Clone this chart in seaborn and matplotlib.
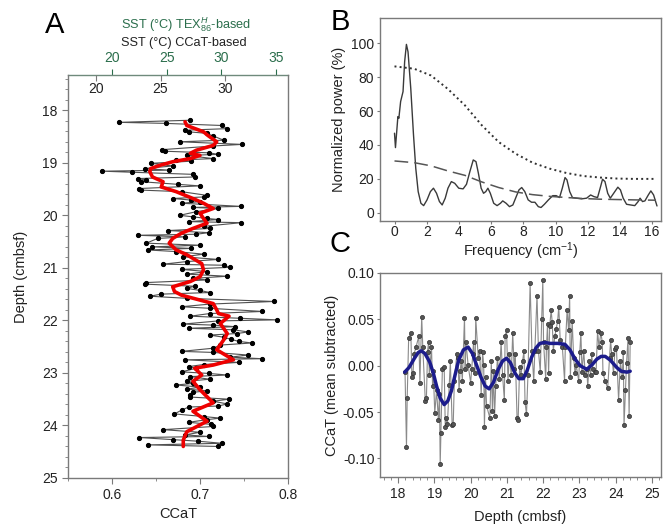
import numpy as np
import pandas as pd
import matplotlib
matplotlib.use('Agg')
import matplotlib.pyplot as plt
import seaborn as sns
from matplotlib.ticker import MultipleLocator, FormatStrFormatter

sns.set_style('ticks')
plt.rcParams['font.family'] = ['Liberation Sans', 'DejaVu Sans']
plt.rcParams['mathtext.fontset'] = 'custom'
plt.rcParams['mathtext.rm'] = 'Liberation Sans'
plt.rcParams['mathtext.it'] = 'Liberation Sans:italic'

# ---------------- data: panel A (CCaT vs depth) ----------------
depth = [18.19, 18.23, 18.25, 18.29, 18.35, 18.38, 18.41, 18.44, 18.49, 18.57,
         18.60, 18.65, 18.68, 18.75, 18.78, 18.81, 18.84, 18.86, 18.92, 18.95,
         18.97, 19.01, 19.06, 19.11, 19.14, 19.16, 19.18, 19.22, 19.27, 19.30,
         19.33, 19.36, 19.41, 19.44, 19.49, 19.52, 19.55, 19.62, 19.65, 19.68,
         19.71, 19.74, 19.77, 19.83, 19.85, 19.87, 19.93, 20.00, 20.03, 20.06,
         20.08, 20.12, 20.14, 20.21, 20.25, 20.29, 20.33, 20.36, 20.38, 20.41,
         20.44, 20.53, 20.57, 20.60, 20.63, 20.66, 20.69, 20.74, 20.79, 20.84,
         20.88, 20.93, 20.95, 20.99, 21.03, 21.07, 21.12, 21.16, 21.20, 21.23,
         21.28, 21.31, 21.35, 21.39, 21.43, 21.47, 21.50, 21.54, 21.58, 21.64,
         21.69, 21.74, 21.77, 21.83, 21.87, 21.92, 21.96, 21.99, 22.01, 22.07,
         22.09, 22.12, 22.15, 22.18, 22.22, 22.25, 22.28, 22.32, 22.36, 22.40,
         22.43, 22.47, 22.53, 22.59, 22.61, 22.66, 22.70, 22.73, 22.75, 22.80,
         22.84, 22.88, 22.91, 22.98, 23.01, 23.04, 23.07, 23.12, 23.16, 23.20,
         23.23, 23.27, 23.31, 23.34, 23.37, 23.42, 23.46, 23.50, 23.54, 23.59,
         23.63, 23.65, 23.71, 23.78, 23.83, 23.86, 23.89, 23.94, 23.98, 24.02,
         24.08, 24.13, 24.18, 24.21, 24.23, 24.27, 24.30, 24.34, 24.37, 24.40]
ccat = [0.689, 0.608, 0.661, 0.725, 0.731, 0.683, 0.687, 0.708, 0.715, 0.727,
        0.677, 0.748, 0.715, 0.657, 0.660, 0.710, 0.721, 0.685, 0.715, 0.673,
        0.690, 0.644, 0.669, 0.637, 0.665, 0.589, 0.623, 0.692, 0.694, 0.629,
        0.639, 0.633, 0.675, 0.700, 0.631, 0.633, 0.679, 0.708, 0.704, 0.669,
        0.690, 0.700, 0.679, 0.747, 0.692, 0.721, 0.696, 0.677, 0.692, 0.708,
        0.721, 0.687, 0.747, 0.704, 0.711, 0.664, 0.710, 0.696, 0.629, 0.683,
        0.652, 0.639, 0.700, 0.646, 0.690, 0.641, 0.673, 0.704, 0.681, 0.721,
        0.685, 0.658, 0.727, 0.734, 0.679, 0.708, 0.685, 0.731, 0.692, 0.708,
        0.639, 0.637, 0.694, 0.685, 0.700, 0.711, 0.656, 0.643, 0.685, 0.784,
        0.711, 0.679, 0.711, 0.771, 0.711, 0.689, 0.746, 0.788, 0.721, 0.681,
        0.715, 0.740, 0.687, 0.738, 0.755, 0.742, 0.711, 0.727, 0.735, 0.744,
        0.759, 0.723, 0.715, 0.679, 0.715, 0.755, 0.734, 0.771, 0.683, 0.744,
        0.704, 0.687, 0.696, 0.679, 0.710, 0.731, 0.689, 0.711, 0.685, 0.692,
        0.673, 0.700, 0.685, 0.708, 0.692, 0.689, 0.689, 0.733, 0.715, 0.731,
        0.721, 0.687, 0.679, 0.671, 0.704, 0.723, 0.708, 0.687, 0.713, 0.715,
        0.658, 0.700, 0.683, 0.710, 0.631, 0.669, 0.698, 0.725, 0.641, 0.721]

smooth_depth = [18.22, 18.29, 18.41, 18.48, 18.60, 18.67, 18.76, 18.82, 18.86, 18.92,
                18.98, 19.05, 19.11, 19.17, 19.27, 19.36, 19.46, 19.55, 19.68, 19.77,
                19.87, 19.96, 20.06, 20.15, 20.25, 20.34, 20.44, 20.53, 20.66, 20.75,
                20.84, 20.92, 21.04, 21.17, 21.26, 21.36, 21.45, 21.52, 21.68, 21.80,
                21.87, 21.92, 22.06, 22.25, 22.37, 22.56, 22.75, 22.85, 22.91, 23.04,
                23.16, 23.32, 23.57, 23.73, 23.92, 24.12, 24.28, 24.40]
smooth_ccat = [0.683, 0.685, 0.704, 0.709, 0.719, 0.715, 0.696, 0.689, 0.700, 0.689,
               0.669, 0.654, 0.644, 0.643, 0.646, 0.658, 0.656, 0.673, 0.692, 0.704,
               0.715, 0.700, 0.704, 0.708, 0.692, 0.679, 0.669, 0.665, 0.673, 0.685,
               0.694, 0.702, 0.704, 0.700, 0.689, 0.669, 0.671, 0.679, 0.715, 0.719,
               0.721, 0.733, 0.723, 0.731, 0.727, 0.719, 0.738, 0.715, 0.694, 0.702,
               0.692, 0.700, 0.715, 0.692, 0.708, 0.685, 0.681, 0.681]

# ---------------- data: panel B (spectrum) ----------------
spec_freq = [0.00, 0.06, 0.17, 0.21, 0.27, 0.38, 0.53, 0.63, 0.74, 0.84, 1.01, 1.18,
             1.32, 1.47, 1.64, 1.81, 2.02, 2.23, 2.42, 2.61, 2.79, 2.96, 3.15, 3.32,
             3.53, 3.74, 3.99, 4.26, 4.47, 4.68, 4.89, 5.06, 5.21, 5.38, 5.53, 5.67,
             5.80, 5.95, 6.16, 6.37, 6.58, 6.72, 6.93, 7.14, 7.35, 7.52, 7.73, 7.90,
             8.09, 8.30, 8.51, 8.72, 8.93, 9.10, 9.31, 9.56, 9.83, 10.04, 10.25, 10.42,
             10.59, 10.71, 10.88, 11.05, 11.30, 11.62, 11.93, 12.18, 12.39, 12.61,
             12.77, 12.92, 13.07, 13.24, 13.40, 13.61, 13.87, 14.03, 14.20, 14.41,
             14.66, 14.92, 15.13, 15.25, 15.40, 15.55, 15.76, 15.92, 16.09, 16.30]
spec_power = [46.9, 38.4, 51.8, 56.7, 55.7, 65.6, 71.5, 89.2, 99.4, 95.0, 73.4, 45.9,
              26.2, 12.4, 5.5, 4.1, 7.5, 12.4, 14.4, 11.4, 6.5, 4.5, 8.5, 14.4,
              18.3, 17.3, 14.4, 14.0, 16.7, 24.2, 31.1, 30.1, 23.2, 14.4, 11.4, 12.4,
              14.4, 11.4, 5.5, 4.1, 5.5, 6.9, 5.5, 3.5, 4.5, 8.5, 13.4, 14.8,
              12.4, 7.5, 6.1, 6.1, 3.5, 3.0, 4.9, 7.5, 10.0, 10.0, 8.9, 14.4,
              20.7, 19.3, 12.4, 8.9, 8.5, 8.1, 8.5, 10.4, 9.4, 8.9,
              14.4, 19.7, 18.3, 11.4, 8.5, 11.4, 15.0, 13.4, 8.5, 4.9,
              4.5, 4.1, 6.5, 8.5, 6.5, 6.9, 10.4, 12.8, 10.4, 3.9]
conf_freq = [0.00, 1.22, 2.27, 3.32, 4.37, 5.42, 6.47, 7.52, 8.57, 9.62, 10.67,
             11.72, 12.77, 13.82, 14.87, 16.24]
conf99 = [86.4, 85.0, 81.0, 73.0, 63.4, 51.6, 41.7, 34.8, 29.5, 26.0, 23.4,
          21.6, 20.7, 20.1, 19.9, 19.9]
red_noise = [30.5, 29.5, 27.6, 24.6, 22.0, 18.1, 14.8, 12.2, 10.6, 9.6, 8.9,
             8.3, 7.9, 7.7, 7.5, 7.3]

# ---------------- data: panel C (band-pass filter) ----------------
filt_depth = [18.18, 18.30, 18.45, 18.55, 18.64, 18.74, 18.87, 18.97, 19.06, 19.16,
              19.27, 19.37, 19.47, 19.57, 19.67, 19.80, 19.93, 20.05, 20.16, 20.28,
              20.40, 20.51, 20.63, 20.76, 20.88, 20.99, 21.10, 21.22, 21.33, 21.45,
              21.56, 21.68, 21.80, 21.91, 22.05, 22.19, 22.40, 22.60, 22.74, 22.88,
              23.02, 23.20, 23.35, 23.48, 23.60, 23.71, 23.85, 24.03, 24.15, 24.31,
              24.40]
filt_val = [-0.007, -0.002, 0.008, 0.014, 0.016, 0.013, 0.004, -0.008, -0.022, -0.035,
            -0.042, -0.038, -0.027, -0.010, 0.006, 0.017, 0.020, 0.013, 0.001, -0.012,
            -0.022, -0.025, -0.018, -0.004, 0.005, 0.008, 0.003, -0.008, -0.014, -0.014,
            -0.005, 0.009, 0.019, 0.024, 0.025, 0.024, 0.024, 0.023, 0.017, 0.007,
            0.000, -0.004, 0.001, 0.007, 0.010, 0.010, 0.006, -0.002, -0.006, -0.007,
            -0.006]

# SST calibrations (for the secondary scales)
def tex_f(c):
    return 20 + 80.6 * (np.asarray(c) - 0.6)

def tex_i(s):
    return 0.6 + (np.asarray(s) - 20) / 80.6

def cc_f(c):
    return 20 + 68.0 * (np.asarray(c) - 0.5816)

def cc_i(s):
    return 0.5816 + (np.asarray(s) - 20) / 68.0

GREEN = '#2b6e4c'
SPINE = '#7a7a7a'
TXT = '#222222'
FS = 10

dfA = pd.DataFrame({'depth': depth, 'ccat': ccat})
dfS = pd.DataFrame({'depth': smooth_depth, 'ccat': smooth_ccat})
dfC = pd.DataFrame({'depth': depth, 'anom': np.array(ccat) - np.mean(ccat)})
dfF = pd.DataFrame({'depth': filt_depth, 'val': filt_val})
dfB = pd.DataFrame({'f': spec_freq, 'p': spec_power})
dfCL = pd.DataFrame({'f': conf_freq, 'c99': conf99, 'rn': red_noise})

fig = plt.figure(figsize=(6.64, 5.26), dpi=100)
axA = fig.add_axes([0.1024, 0.0913, 0.3313, 0.766])
axB = fig.add_axes([0.5723, 0.5798, 0.4232, 0.386])
axC = fig.add_axes([0.5723, 0.0932, 0.4232, 0.388])

def style(ax):
    for s in ax.spines.values():
        s.set_color(SPINE)
        s.set_linewidth(1.0)
    ax.tick_params(which='both', colors=SPINE, labelcolor=TXT, labelsize=FS,
                   direction='out')
    ax.tick_params(which='major', length=4)
    ax.tick_params(which='minor', length=2)

# ---------- Panel A ----------
sns.lineplot(data=dfA, x='ccat', y='depth', sort=False, estimator=None, ax=axA,
             color='#505050', lw=0.8, marker='o', markersize=3,
             markerfacecolor='black', markeredgecolor='black')
sns.lineplot(data=dfS, x='ccat', y='depth', sort=False, estimator=None, ax=axA,
             color='#ee0000', lw=2.6)
axA.set_xlim(0.55, 0.8)
axA.set_ylim(25, 17.33)
axA.set_xticks([0.6, 0.7, 0.8])
axA.xaxis.set_minor_locator(MultipleLocator(0.05))
axA.set_yticks(range(18, 26))
axA.yaxis.set_minor_locator(MultipleLocator(0.2))
style(axA)
axA.spines['top'].set_visible(False)
axA.set_xlabel('CCaT', fontsize=10.5, color=TXT, labelpad=3)
axA.set_ylabel('Depth (cmbsf)', fontsize=10.5, color=TXT, labelpad=10)

secG = axA.secondary_xaxis('top', functions=(tex_f, tex_i))
secG.set_xticks([20, 25, 30, 35])
secG.tick_params(colors=GREEN, labelcolor=GREEN, labelsize=FS, direction='out', length=4)
secG.spines['top'].set_color('#6f8a7c')
secG.spines['top'].set_linewidth(1.0)

secK = axA.secondary_xaxis('top', functions=(cc_f, cc_i))
secK.set_xticks([20, 25, 30])
secK.tick_params(colors=SPINE, labelcolor=TXT, labelsize=FS, direction='in',
                 length=4, pad=-15)
secK.spines['top'].set_visible(False)

fig.text(186 / 664, 1 - 25 / 526, r'SST (°C) TEX$_{86}^{H}$-based', color=GREEN,
         ha='center', va='center', fontsize=9.2)
fig.text(184 / 664, 1 - 43 / 526, 'SST (°C) CCaT-based', color=TXT,
         ha='center', va='center', fontsize=9.2)

# ---------- Panel B ----------
sns.lineplot(data=dfB, x='f', y='p', sort=False, estimator=None, ax=axB,
             color='#3a3a3a', lw=1.0)
sns.lineplot(data=dfCL, x='f', y='c99', sort=False, estimator=None, ax=axB,
             color='#303030', lw=1.4, linestyle=':')
sns.lineplot(data=dfCL, x='f', y='rn', sort=False, estimator=None, ax=axB,
             color='#555555', lw=1.1)
axB.lines[2].set_dashes([9, 4])
axB.set_xlim(-0.9, 16.55)
axB.set_ylim(-5, 115)
axB.set_xticks(range(0, 17, 2))
axB.set_yticks(range(0, 101, 20))
style(axB)
axB.tick_params(axis='x', length=2.5, pad=0.5)
axB.tick_params(axis='y', length=2.5, pad=2)
axB.set_xlabel(r'Frequency (cm$^{-1}$)', fontsize=10.5, color=TXT, labelpad=1)
axB.set_ylabel('Normalized power (%)', fontsize=10.5, color=TXT, labelpad=3)

# ---------- Panel C ----------
sns.lineplot(data=dfC, x='depth', y='anom', sort=False, estimator=None, ax=axC,
             color='#8a8a8a', lw=0.8, marker='o', markersize=3,
             markerfacecolor='#555555', markeredgecolor='#333333', markeredgewidth=0.5)
sns.lineplot(data=dfF, x='depth', y='val', sort=False, estimator=None, ax=axC,
             color='#1c1c8c', lw=2.5)
axC.set_xlim(17.5, 25.25)
axC.set_ylim(-0.12, 0.10)
axC.set_xticks(range(18, 26))
axC.xaxis.set_minor_locator(MultipleLocator(0.2))
axC.set_yticks([-0.10, -0.05, 0.0, 0.05, 0.10])
axC.yaxis.set_major_formatter(FormatStrFormatter('%.2f'))
style(axC)
axC.tick_params(axis='y', length=2.5, pad=1.5)
axC.set_xlabel('Depth (cmbsf)', fontsize=10.5, color=TXT, labelpad=6)
axC.set_ylabel('CCaT (mean subtracted)', fontsize=10.5, color=TXT, labelpad=3)

# panel letters
fig.text(55 / 664, 1 - 25 / 526, 'A', ha='center', va='center', fontsize=21, color='black')
fig.text(340 / 664, 1 - 22 / 526, 'B', ha='center', va='center', fontsize=21, color='black')
fig.text(340 / 664, 1 - 244 / 526, 'C', ha='center', va='center', fontsize=21, color='black')

fig.savefig('out.png', dpi=100)
